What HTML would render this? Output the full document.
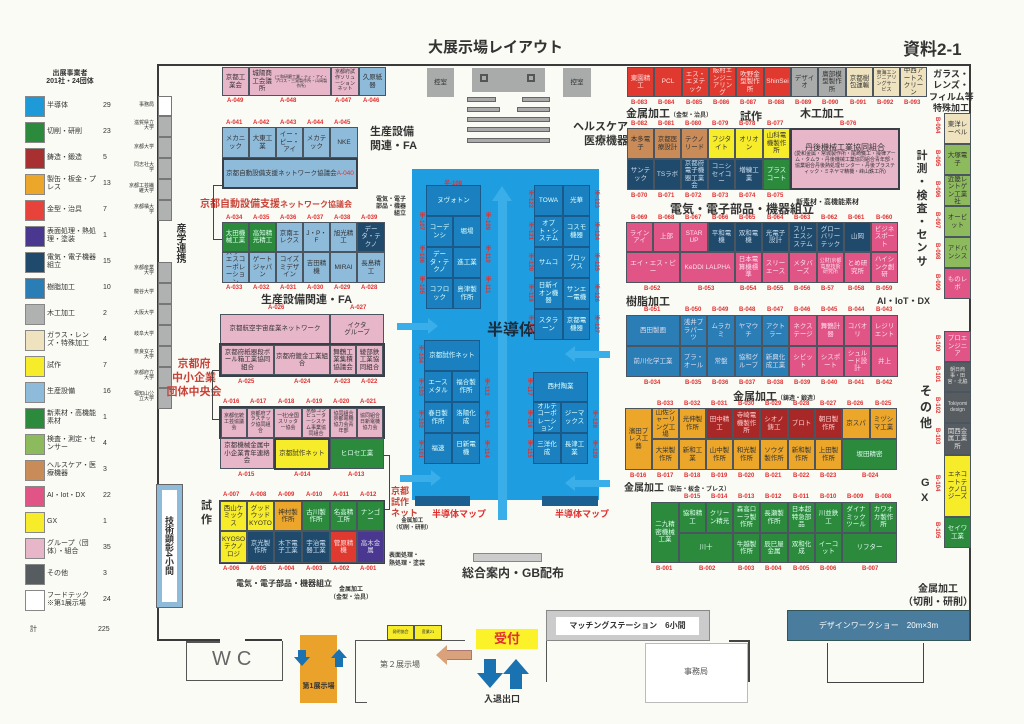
<!DOCTYPE html>
<html><head><meta charset="utf-8">
<style>
*{margin:0;padding:0;box-sizing:border-box}
body{width:1024px;height:724px;background:#fbfbf5;position:relative;overflow:hidden;font-family:"Liberation Sans","Noto Sans CJK JP",sans-serif;color:#333}
div{position:absolute}
.b{border:1px solid #4a5560;font-size:6.5px;display:flex;align-items:center;justify-content:center;text-align:center;line-height:1.15;overflow:hidden;color:#333;padding:1px}
.w{color:#e8eef5}
.t{border:2px solid #3a4048}
.pk{background:#e8b6c9}.lb{background:#8fbbdb}.gr{background:#2b8a3c;color:#dfe}.nv{background:#1f4a6c;color:#cde}
.bl{background:#2a7db5;color:#dde}.rd{background:#e03a30;color:#fdd}.dr{background:#a82828;color:#fcc}
.or{background:#eca72b}.ye{background:#f6ec2a}.ai{background:#e05586;color:#fde}.gy{background:#a9abab}
.be{background:#eee2bf}.lg{background:#8dba5c}.br{background:#c98b57}.pu{background:#4a3790;color:#dde}
.dg{background:#565c60;color:#ddd}.sb{background:#1b80bf;color:#dff;border-color:#1a5a8a}
.l{font-size:6px;color:#e03030;white-space:nowrap;font-weight:bold}
.h{font-weight:bold;white-space:nowrap}
.v{writing-mode:vertical-rl;font-size:6px;color:#e03030;font-weight:bold}
.sw{left:25px;width:20px;height:21px;border:1px solid #888}
.lt{left:47px;font-size:7px;line-height:1.1;width:55px}
.ct{left:103px;font-size:7px}
.un{left:118px;width:36px;font-size:5px;text-align:right;line-height:1.05}
.g{left:158px;width:14px;height:21px;background:#b0b2b2;border:1px solid #777}
</style></head><body>

<!-- titles -->
<div class="h" style="left:428px;top:36px;font-size:15px">大展示場レイアウト</div>
<div class="h" style="left:903px;top:35px;font-size:17px">資料2-1</div>

<!-- legend -->
<div class="h" style="left:40px;top:70px;font-size:7px;text-align:center;width:60px;line-height:1.2">出展事業者<br>201社・24団体</div>
<div class="sw" style="top:96px;background:#1e9ad8"></div><div class="lt" style="top:102px">半導体</div><div class="ct" style="top:102px">29</div>
<div class="sw" style="top:122px;background:#2b8a3c"></div><div class="lt" style="top:128px">切削・研削</div><div class="ct" style="top:128px">23</div>
<div class="sw" style="top:148px;background:#a83030"></div><div class="lt" style="top:154px">鋳造・鍛造</div><div class="ct" style="top:154px">5</div>
<div class="sw" style="top:174px;background:#eca72b"></div><div class="lt" style="top:176px">製缶・板金・プレス</div><div class="ct" style="top:180px">13</div>
<div class="sw" style="top:200px;background:#e8433a"></div><div class="lt" style="top:206px">金型・治具</div><div class="ct" style="top:206px">7</div>
<div class="sw" style="top:226px;background:#4a3790"></div><div class="lt" style="top:228px">表面処理・熱処理・塗装</div><div class="ct" style="top:232px">1</div>
<div class="sw" style="top:252px;background:#1f4a6c"></div><div class="lt" style="top:254px">電気・電子機器組立</div><div class="ct" style="top:258px">15</div>
<div class="sw" style="top:278px;background:#2a7db5"></div><div class="lt" style="top:284px">樹脂加工</div><div class="ct" style="top:284px">10</div>
<div class="sw" style="top:304px;background:#b0b2b2"></div><div class="lt" style="top:310px">木工加工</div><div class="ct" style="top:310px">2</div>
<div class="sw" style="top:330px;background:#eee2bf"></div><div class="lt" style="top:332px">ガラス・レンズ・特殊加工</div><div class="ct" style="top:336px">4</div>
<div class="sw" style="top:356px;background:#f6ec2a"></div><div class="lt" style="top:362px">試作</div><div class="ct" style="top:362px">7</div>
<div class="sw" style="top:382px;background:#8fbbdb"></div><div class="lt" style="top:388px">生産設備</div><div class="ct" style="top:388px">16</div>
<div class="sw" style="top:408px;background:#2b8a3c"></div><div class="lt" style="top:410px">新素材・高機能素材</div><div class="ct" style="top:414px">1</div>
<div class="sw" style="top:434px;background:#8dba5c"></div><div class="lt" style="top:436px">検査・測定・センサー</div><div class="ct" style="top:440px">4</div>
<div class="sw" style="top:460px;background:#c98b57"></div><div class="lt" style="top:462px">ヘルスケア・医療機器</div><div class="ct" style="top:466px">3</div>
<div class="sw" style="top:486px;background:#e05586"></div><div class="lt" style="top:492px">AI・Iot・DX</div><div class="ct" style="top:492px">22</div>
<div class="sw" style="top:512px;background:#f6ec2a"></div><div class="lt" style="top:518px">GX</div><div class="ct" style="top:518px">1</div>
<div class="sw" style="top:538px;background:#e8b6c9"></div><div class="lt" style="top:540px">グループ（団体）・組合</div><div class="ct" style="top:544px">35</div>
<div class="sw" style="top:564px;background:#565c60"></div><div class="lt" style="top:570px">その他</div><div class="ct" style="top:570px">3</div>
<div class="sw" style="top:590px;background:#fff"></div><div class="lt" style="top:592px">フードテック<br>※第1展示場</div><div class="ct" style="top:596px">24</div>
<div class="lt" style="top:626px;left:30px">計</div><div class="ct" style="top:626px;left:98px">225</div>

<!-- hall outline -->
<div style="left:157px;top:64px;width:814px;height:577px;border:2px solid #3a3a3a;border-bottom:none"></div>
<div style="left:157px;top:639px;width:63px;height:2px;background:#3a3a3a"></div>
<div style="left:245px;top:639px;width:37px;height:2px;background:#3a3a3a"></div>

<!-- universities column -->
<div style="left:158px;top:96px;width:14px;height:20px;background:#fff;border:1px solid #777"></div>
<div class="g" style="top:116px"></div><div class="g" style="top:137px"></div><div class="g" style="top:158px"></div><div class="g" style="top:179px"></div><div class="g" style="top:200px"></div>
<div class="g" style="top:262px"></div><div class="g" style="top:283px"></div><div class="g" style="top:304px"></div><div class="g" style="top:325px"></div><div class="g" style="top:346px"></div><div class="g" style="top:367px"></div><div class="g" style="top:388px"></div>
<div class="un" style="top:103px">事務局</div>
<div class="un" style="top:121px">滋賀県立<br>大学</div>
<div class="un" style="top:145px">京都大学</div>
<div class="un" style="top:163px">同志社大<br>学</div>
<div class="un" style="top:184px">京都工芸繊<br>維大学</div>
<div class="un" style="top:205px">京都橘大<br>学</div>
<div class="h" style="left:172px;top:223px;font-size:10px;writing-mode:vertical-rl">産学連携</div>
<div class="un" style="top:266px">京都産業<br>大学</div>
<div class="un" style="top:290px">龍谷大学</div>
<div class="un" style="top:311px">大阪大学</div>
<div class="un" style="top:332px">岐阜大学</div>
<div class="un" style="top:350px">奈良女子<br>大学</div>
<div class="un" style="top:371px">京都府立<br>大学</div>
<div class="un" style="top:392px">福知山公<br>立大学</div>
<div style="left:156px;top:484px;width:27px;height:124px;background:#8fbbdb;border:1px solid #666"></div>
<div class="h" style="left:162px;top:490px;width:15px;height:112px;background:#fff;font-size:9px;writing-mode:vertical-rl;display:flex;align-items:center;justify-content:center">技術顕彰4小間</div>

<!-- A top rows -->
<div class="b pk" style="left:222px;top:67px;width:27px;height:29px">京都工業会</div>
<div class="b pk" style="left:249px;top:67px;width:82px;height:29px">城陽商工会議所<br><span style="font-size:4px">(三和研磨工業・ティ・アイ・プロス・三晃製作所・山岡製作所)</span></div>
<div class="b pk" style="left:331px;top:67px;width:28px;height:29px;font-size:5px">京都府試作ソリューションネット</div>
<div class="b lb" style="left:359px;top:67px;width:27px;height:29px">久原紙器</div>
<div class="l" style="left:227px;top:98px">A-049</div><div class="l" style="left:280px;top:98px">A-048</div><div class="l" style="left:335px;top:98px">A-047</div><div class="l" style="left:363px;top:98px">A-046</div>
<div class="l" style="left:226px;top:120px">A-041</div><div class="l" style="left:253px;top:120px">A-042</div><div class="l" style="left:280px;top:120px">A-043</div><div class="l" style="left:307px;top:120px">A-044</div><div class="l" style="left:334px;top:120px">A-045</div>
<div class="b lb" style="left:222px;top:127px;width:27px;height:31px">メカニック</div>
<div class="b lb" style="left:249px;top:127px;width:27px;height:31px">大東工業</div>
<div class="b lb" style="left:276px;top:127px;width:27px;height:31px">イー・ピー・アイ</div>
<div class="b lb" style="left:303px;top:127px;width:27px;height:31px">メカテック</div>
<div class="b lb" style="left:330px;top:127px;width:28px;height:31px">NKE</div>
<div class="b lb t" style="left:222px;top:158px;width:136px;height:31px">京都自動設備支援ネットワーク協議会<br><span style="color:#e03030">A-040</span></div>
<div class="h" style="left:200px;top:195px;font-size:10px;color:#c8443a">京都自動設備支援<span style="font-size:8px">ネットワーク協議会</span></div>
<div style="left:213px;top:185px;width:9px;height:55px;border:1px solid #444;border-right:none"></div>
<div class="l" style="left:226px;top:215px">A-034</div><div class="l" style="left:253px;top:215px">A-035</div><div class="l" style="left:280px;top:215px">A-036</div><div class="l" style="left:307px;top:215px">A-037</div><div class="l" style="left:334px;top:215px">A-038</div><div class="l" style="left:361px;top:215px">A-039</div>
<div class="b gr" style="left:222px;top:222px;width:27px;height:30px">太田機械工業</div>
<div class="b gr" style="left:249px;top:222px;width:27px;height:30px">高知精光精工</div>
<div class="b lb" style="left:276px;top:222px;width:27px;height:30px">京南エレクス</div>
<div class="b lb" style="left:303px;top:222px;width:27px;height:30px">J・P・F</div>
<div class="b lb" style="left:330px;top:222px;width:27px;height:30px">旭光精工</div>
<div class="b nv" style="left:357px;top:222px;width:28px;height:30px">データ・テクノ</div>
<div class="b lb" style="left:222px;top:252px;width:27px;height:31px">スリーエスコーポレーション</div>
<div class="b lb" style="left:249px;top:252px;width:27px;height:31px">ゲートジャパン</div>
<div class="b lb" style="left:276px;top:252px;width:27px;height:31px">コイズミデザイン</div>
<div class="b lb" style="left:303px;top:252px;width:27px;height:31px">吉田精機</div>
<div class="b lb" style="left:330px;top:252px;width:27px;height:31px">MIRAI</div>
<div class="b lb" style="left:357px;top:252px;width:28px;height:31px">長島精工</div>
<div class="l" style="left:226px;top:285px">A-033</div><div class="l" style="left:253px;top:285px">A-032</div><div class="l" style="left:280px;top:285px">A-031</div><div class="l" style="left:307px;top:285px">A-030</div><div class="l" style="left:334px;top:285px">A-029</div><div class="l" style="left:361px;top:285px">A-028</div>
<div class="h" style="left:261px;top:291px;font-size:11px">生産設備関連・FA</div>
<div class="l" style="left:268px;top:305px">A-026</div><div class="l" style="left:350px;top:305px">A-027</div>
<div class="h" style="left:370px;top:125px;font-size:11px;line-height:1.3">生産設備<br>関連・FA</div>
<div class="h" style="left:376px;top:197px;font-size:6px;line-height:1.2;text-align:right">電気・電子<br>部品・機器<br>組立</div>

<!-- A group -->
<div class="b pk" style="left:220px;top:314px;width:110px;height:30px">京都航空宇宙産業ネットワーク</div>
<div class="b pk" style="left:330px;top:314px;width:54px;height:30px">イクタ<br>グループ</div>
<div style="left:219px;top:343px;width:166px;height:34px;border:2px solid #3a4048"></div>
<div class="b pk" style="left:221px;top:345px;width:53px;height:30px">京都府紙器段ボール箱工業協同組合</div>
<div class="b pk" style="left:274px;top:345px;width:56px;height:30px">京都府鍍金工業組合</div>
<div class="b pk" style="left:330px;top:345px;width:26px;height:30px">舞鶴工業集積協議会</div>
<div class="b pk" style="left:356px;top:345px;width:27px;height:30px">綾部鉄工業協同組合</div>
<div class="l" style="left:238px;top:379px">A-025</div><div class="l" style="left:294px;top:379px">A-024</div><div class="l" style="left:334px;top:379px">A-023</div><div class="l" style="left:361px;top:379px">A-022</div>
<div class="h" style="left:165px;top:358px;width:58px;font-size:11px;color:#c8443a;text-align:center;line-height:1.25">京都府<br>中小企業<br>団体中央会</div>
<div style="left:212px;top:370px;width:8px;height:50px;border:1px solid #444;border-right:none"></div>
<div class="l" style="left:223px;top:399px">A-016</div><div class="l" style="left:250px;top:399px">A-017</div><div class="l" style="left:278px;top:399px">A-018</div><div class="l" style="left:306px;top:399px">A-019</div><div class="l" style="left:333px;top:399px">A-020</div><div class="l" style="left:360px;top:399px">A-021</div>
<div style="left:219px;top:406px;width:166px;height:33px;border:2px solid #3a4048"></div>
<div class="b pk" style="left:221px;top:408px;width:26px;height:30px;font-size:5px">京都伝統工芸協議会</div>
<div class="b pk" style="left:247px;top:408px;width:27px;height:30px;font-size:5px">京都府プラスチック協同組合</div>
<div class="b pk" style="left:274px;top:408px;width:28px;height:30px;font-size:5px">一社)全国スリッター協会</div>
<div class="b pk" style="left:302px;top:408px;width:28px;height:30px;font-size:5px">京都コンピューターシステム事業協同組合</div>
<div class="b pk" style="left:330px;top:408px;width:27px;height:30px;font-size:5px">協同組合京都電機協力会青年部</div>
<div class="b pk" style="left:357px;top:408px;width:26px;height:30px;font-size:5px">協同組合日新電機協力会</div>
<div class="b pk" style="left:220px;top:438px;width:54px;height:31px">京都機械金属中小企業青年連絡会</div>
<div class="b ye t" style="left:274px;top:438px;width:56px;height:32px">京都試作ネット</div>
<div class="b gr" style="left:330px;top:438px;width:54px;height:31px">ヒロセ工業</div>
<div class="l" style="left:238px;top:472px">A-015</div><div class="l" style="left:294px;top:472px">A-014</div><div class="l" style="left:348px;top:472px">A-013</div>
<div style="left:384px;top:455px;width:6px;height:55px;border:1px solid #444;border-left:none"></div>
<div class="h" style="left:201px;top:499px;font-size:11px;line-height:1.3">試<br>作</div>
<div class="l" style="left:223px;top:492px">A-007</div><div class="l" style="left:250px;top:492px">A-008</div><div class="l" style="left:278px;top:492px">A-009</div><div class="l" style="left:306px;top:492px">A-010</div><div class="l" style="left:333px;top:492px">A-011</div><div class="l" style="left:360px;top:492px">A-012</div>
<div style="left:219px;top:500px;width:166px;height:64px;border:2px solid #3a4048"></div>
<div class="b ye" style="left:220px;top:501px;width:27px;height:30px">西山ケミックス</div>
<div class="b ye" style="left:247px;top:501px;width:27px;height:30px">グッドウッドKYOTO</div>
<div class="b or" style="left:274px;top:501px;width:28px;height:30px">神村製作所</div>
<div class="b gr" style="left:302px;top:501px;width:28px;height:30px">古川製作所</div>
<div class="b gr" style="left:330px;top:501px;width:27px;height:30px">名高精工所</div>
<div class="b gr" style="left:357px;top:501px;width:27px;height:30px">ナンゴー</div>
<div class="b ye" style="left:220px;top:531px;width:27px;height:32px">KYOSOテクノロジ</div>
<div class="b nv" style="left:247px;top:531px;width:27px;height:32px">京光製作所</div>
<div class="b nv" style="left:274px;top:531px;width:28px;height:32px">木下電子工業</div>
<div class="b nv" style="left:302px;top:531px;width:28px;height:32px">宇治電器工業</div>
<div class="b rd" style="left:330px;top:531px;width:27px;height:32px">菅原精機</div>
<div class="b pu" style="left:357px;top:531px;width:27px;height:32px">高木金属</div>
<div class="l" style="left:223px;top:566px">A-006</div><div class="l" style="left:250px;top:566px">A-005</div><div class="l" style="left:278px;top:566px">A-004</div><div class="l" style="left:306px;top:566px">A-003</div><div class="l" style="left:333px;top:566px">A-002</div><div class="l" style="left:360px;top:566px">A-001</div>
<div class="h" style="left:391px;top:486px;font-size:9px;color:#c8443a;line-height:1.2">京都<br>試作<br>ネット</div>
<div class="h" style="left:393px;top:518px;font-size:5.5px;line-height:1.3;text-align:center">金属加工<br>（切削・研削）</div>
<div class="h" style="left:389px;top:553px;font-size:6px;line-height:1.3">表面処理・<br>熱処理・塗装</div>
<div class="h" style="left:236px;top:578px;font-size:8px">電気・電子部品・機器組立</div>
<div class="h" style="left:330px;top:587px;font-size:6px;line-height:1.3;text-align:center">金属加工<br>（金型・治具）</div>

<!-- top centre -->
<div class="b gy" style="left:427px;top:68px;width:27px;height:29px;border:none">控室</div>
<div style="left:472px;top:68px;width:73px;height:24px;background:#a9abab"></div>
<div style="left:480px;top:74px;width:8px;height:8px;border:2px solid #555"></div>
<div style="left:527px;top:74px;width:8px;height:8px;border:2px solid #555"></div>
<div class="b gy" style="left:563px;top:68px;width:28px;height:29px;border:none">控室</div>
<div style="left:467px;top:97px;width:29px;height:5px;background:#aaa;border:1px solid #666"></div>
<div style="left:522px;top:97px;width:28px;height:5px;background:#aaa;border:1px solid #666"></div>
<div style="left:467px;top:107px;width:33px;height:5px;background:#aaa;border:1px solid #666"></div>
<div style="left:517px;top:107px;width:33px;height:5px;background:#aaa;border:1px solid #666"></div>
<div style="left:467px;top:117px;width:83px;height:5px;background:#aaa;border:1px solid #666"></div>
<div style="left:467px;top:127px;width:83px;height:5px;background:#aaa;border:1px solid #666"></div>
<div style="left:467px;top:138px;width:83px;height:5px;background:#aaa;border:1px solid #666"></div>
<div class="h" style="left:573px;top:120px;font-size:11px;line-height:1.3;text-align:right">ヘルスケア<br>医療機器</div>

<!-- semiconductor -->
<div style="left:412px;top:169px;width:187px;height:331px;background:#1e9ee0"></div>
<div style="left:498px;top:200px;width:9px;height:320px;background:#3aaee8"></div>
<div style="left:492px;top:186px;width:0;height:0;border-left:10px solid transparent;border-right:10px solid transparent;border-bottom:15px solid #3aaee8"></div>
<div style="left:397px;top:323px;width:32px;height:7px;background:#3aaee8"></div><div style="left:428px;top:318px;border-top:8px solid transparent;border-bottom:8px solid transparent;border-left:10px solid #3aaee8"></div>
<div style="left:400px;top:475px;width:32px;height:7px;background:#3aaee8"></div><div style="left:431px;top:470px;border-top:8px solid transparent;border-bottom:8px solid transparent;border-left:10px solid #3aaee8"></div>
<div style="left:575px;top:351px;width:35px;height:7px;background:#3aaee8"></div><div style="left:565px;top:346px;border-top:8px solid transparent;border-bottom:8px solid transparent;border-right:10px solid #3aaee8"></div>
<div style="left:575px;top:480px;width:35px;height:7px;background:#3aaee8"></div><div style="left:565px;top:475px;border-top:8px solid transparent;border-bottom:8px solid transparent;border-right:10px solid #3aaee8"></div>
<div class="l" style="left:444px;top:178px">半-108</div>
<div class="b sb" style="left:426px;top:185px;width:55px;height:31px">ヌヴォトン</div>
<div class="b sb" style="left:426px;top:216px;width:27px;height:31px">コーデンシ</div><div class="b sb" style="left:453px;top:216px;width:28px;height:31px">堀場</div>
<div class="b sb" style="left:426px;top:247px;width:27px;height:31px">データ・テクノ</div><div class="b sb" style="left:453px;top:247px;width:28px;height:31px">進工業</div>
<div class="b sb" style="left:426px;top:278px;width:27px;height:31px">コフロック</div><div class="b sb" style="left:453px;top:278px;width:28px;height:31px">島津製作所</div>
<div class="b sb" style="left:534px;top:185px;width:29px;height:31px">TOWA</div><div class="b sb" style="left:563px;top:185px;width:27px;height:31px">光華</div>
<div class="b sb" style="left:534px;top:216px;width:29px;height:31px">オプト・システム</div><div class="b sb" style="left:563px;top:216px;width:27px;height:31px">コスモ機器</div>
<div class="b sb" style="left:534px;top:247px;width:29px;height:31px">サムコ</div><div class="b sb" style="left:563px;top:247px;width:27px;height:31px">ブロックス</div>
<div class="b sb" style="left:534px;top:278px;width:29px;height:31px">日新イオン機器</div><div class="b sb" style="left:563px;top:278px;width:27px;height:31px">サンエー電機</div>
<div class="b sb" style="left:534px;top:309px;width:29px;height:31px">スタラーン</div><div class="b sb" style="left:563px;top:309px;width:27px;height:31px">京都電機器</div>
<div class="h" style="left:487px;top:316px;font-size:16px;color:#1b2b3b">半導体</div>
<div class="b sb" style="left:424px;top:340px;width:56px;height:31px">京都試作ネット</div>
<div class="b sb" style="left:424px;top:371px;width:28px;height:31px">エースメタル</div><div class="b sb" style="left:452px;top:371px;width:28px;height:31px">福合製作所</div>
<div class="b sb" style="left:424px;top:402px;width:28px;height:31px">春日製作所</div><div class="b sb" style="left:452px;top:402px;width:28px;height:31px">洛陽化成</div>
<div class="b sb" style="left:424px;top:433px;width:28px;height:31px">福速</div><div class="b sb" style="left:452px;top:433px;width:28px;height:31px">日新電機</div>
<div class="b sb" style="left:533px;top:372px;width:55px;height:30px">西村陶業</div>
<div class="b sb" style="left:533px;top:402px;width:28px;height:31px">オルテコーポレーション</div><div class="b sb" style="left:561px;top:402px;width:27px;height:31px">ジーマックス</div>
<div class="b sb" style="left:533px;top:433px;width:28px;height:31px">三洋化成</div><div class="b sb" style="left:561px;top:433px;width:27px;height:31px">長津工業</div>
<div class="v" style="left:417px;top:212px">半-107</div><div class="v" style="left:417px;top:245px">半-106</div><div class="v" style="left:417px;top:276px">半-105</div>
<div class="v" style="left:483px;top:212px">半-109</div><div class="v" style="left:483px;top:245px">半-110</div><div class="v" style="left:483px;top:276px">半-111</div>
<div class="v" style="left:526px;top:190px">半-122</div><div class="v" style="left:526px;top:222px">半-121</div><div class="v" style="left:526px;top:253px">半-120</div><div class="v" style="left:526px;top:284px">半-119</div><div class="v" style="left:526px;top:315px">半-118</div>
<div class="v" style="left:592px;top:190px">半-123</div><div class="v" style="left:592px;top:222px">半-124</div><div class="v" style="left:592px;top:253px">半-125</div><div class="v" style="left:592px;top:284px">半-126</div><div class="v" style="left:592px;top:315px">半-127</div>
<div class="v" style="left:416px;top:345px">半-104</div><div class="v" style="left:416px;top:378px">半-103</div><div class="v" style="left:416px;top:410px">半-102</div><div class="v" style="left:416px;top:440px">半-101</div>
<div class="v" style="left:482px;top:378px">半-112</div><div class="v" style="left:482px;top:410px">半-113</div><div class="v" style="left:482px;top:440px">半-114</div>
<div class="v" style="left:525px;top:378px">半-117</div><div class="v" style="left:525px;top:410px">半-116</div><div class="v" style="left:525px;top:440px">半-115</div>
<div class="v" style="left:590px;top:410px">半-128</div><div class="v" style="left:590px;top:440px">半-129</div>
<div style="left:415px;top:496px;width:55px;height:10px;background:#1b5e90"></div>
<div style="left:542px;top:496px;width:56px;height:10px;background:#1b5e90"></div>
<div class="h" style="left:432px;top:507px;font-size:9px;color:#e03030">半導体マップ</div>
<div class="h" style="left:555px;top:507px;font-size:9px;color:#e03030">半導体マップ</div>
<div style="left:473px;top:553px;width:69px;height:9px;background:#ccc;border:1px solid #888"></div>
<div class="h" style="left:462px;top:564px;font-size:12px">総合案内・GB配布</div>

<!-- B top row -->
<div class="b rd" style="left:627px;top:67px;width:27px;height:30px">東園精工</div>
<div class="b rd" style="left:654px;top:67px;width:28px;height:30px">PCL</div>
<div class="b rd" style="left:682px;top:67px;width:27px;height:30px">エス・エヌテック</div>
<div class="b rd" style="left:709px;top:67px;width:27px;height:30px">阪村エンジニアリング</div>
<div class="b rd" style="left:736px;top:67px;width:28px;height:30px">吹野金型製作所</div>
<div class="b rd" style="left:764px;top:67px;width:27px;height:30px">ShinSei</div>
<div class="b gy" style="left:791px;top:67px;width:27px;height:30px">デザイオ</div>
<div class="b gy" style="left:818px;top:67px;width:28px;height:30px">廣部模型製作所</div>
<div class="b be" style="left:846px;top:67px;width:27px;height:30px">京都樹包運輸</div>
<div class="b be" style="left:873px;top:67px;width:27px;height:30px;font-size:5px">東海エンジニアリングサービス</div>
<div class="b be" style="left:900px;top:67px;width:27px;height:30px">中西アートスクリーン</div>
<div class="l" style="left:631px;top:100px">B-083</div><div class="l" style="left:658px;top:100px">B-084</div><div class="l" style="left:686px;top:100px">B-085</div><div class="l" style="left:713px;top:100px">B-086</div><div class="l" style="left:740px;top:100px">B-087</div><div class="l" style="left:768px;top:100px">B-088</div><div class="l" style="left:795px;top:100px">B-089</div><div class="l" style="left:822px;top:100px">B-090</div><div class="l" style="left:850px;top:100px">B-091</div><div class="l" style="left:877px;top:100px">B-092</div><div class="l" style="left:904px;top:100px">B-093</div>
<div class="h" style="left:929px;top:69px;width:44px;font-size:9px;line-height:1.25;text-align:center">ガラス・<br>レンズ・<br>フィルム等<br>特殊加工</div>
<div class="h" style="left:626px;top:105px;font-size:11px">金属加工<span style="font-size:6px">（金型・治具）</span></div>
<div class="h" style="left:740px;top:108px;font-size:11px">試作</div>
<div class="h" style="left:800px;top:105px;font-size:11px">木工加工</div>
<div class="l" style="left:631px;top:121px">B-082</div><div class="l" style="left:658px;top:121px">B-081</div><div class="l" style="left:685px;top:121px">B-080</div><div class="l" style="left:712px;top:121px">B-079</div><div class="l" style="left:739px;top:121px">B-078</div><div class="l" style="left:767px;top:121px">B-077</div><div class="l" style="left:840px;top:121px">B-076</div>
<div class="b br" style="left:627px;top:128px;width:27px;height:31px">本多電子</div>
<div class="b br" style="left:654px;top:128px;width:27px;height:31px">京都医療設計</div>
<div class="b br" style="left:681px;top:128px;width:27px;height:31px">テクノリード</div>
<div class="b ye" style="left:708px;top:128px;width:27px;height:31px">フジタイト</div>
<div class="b ye" style="left:735px;top:128px;width:28px;height:31px">オリオン</div>
<div class="b ye" style="left:763px;top:128px;width:27px;height:31px">山科電機製作所</div>
<div class="b pk t" style="left:790px;top:128px;width:110px;height:62px;font-size:5px"><span><span style="font-size:8px">丹後機械工業協同組合</span><br>(愛和金属・常城製作所・尾崎鐵工・操律アーム・タムラ・丹後機械工業協同組合青年部・協業組合丹後熱処理センター・丹後プラスティック・ミネヤマ精機・峰山鉄工所)</span></div>
<div class="b nv" style="left:627px;top:159px;width:27px;height:31px">サンテック</div>
<div class="b nv" style="left:654px;top:159px;width:27px;height:31px">TSラボ</div>
<div class="b nv" style="left:681px;top:159px;width:27px;height:31px">京都府電子機器工業会</div>
<div class="b nv" style="left:708px;top:159px;width:27px;height:31px">コニシセイコー</div>
<div class="b nv" style="left:735px;top:159px;width:28px;height:31px">増練工業</div>
<div class="b gr" style="left:763px;top:159px;width:27px;height:31px">プラスコート</div>
<div class="l" style="left:631px;top:193px">B-070</div><div class="l" style="left:658px;top:193px">B-071</div><div class="l" style="left:685px;top:193px">B-072</div><div class="l" style="left:712px;top:193px">B-073</div><div class="l" style="left:739px;top:193px">B-074</div><div class="l" style="left:767px;top:193px">B-075</div>
<div class="h" style="left:796px;top:197px;font-size:7px">新素材・高機能素材</div>
<div class="h" style="left:670px;top:200px;font-size:12px">電気・電子部品・機器組立</div>
<div class="l" style="left:631px;top:215px">B-069</div><div class="l" style="left:658px;top:215px">B-068</div><div class="l" style="left:685px;top:215px">B-067</div><div class="l" style="left:712px;top:215px">B-066</div><div class="l" style="left:739px;top:215px">B-065</div><div class="l" style="left:767px;top:215px">B-064</div><div class="l" style="left:794px;top:215px">B-063</div><div class="l" style="left:821px;top:215px">B-062</div><div class="l" style="left:848px;top:215px">B-061</div><div class="l" style="left:876px;top:215px">B-060</div>
<div class="b ai" style="left:626px;top:222px;width:27px;height:30px">ラインアイ</div>
<div class="b ai" style="left:653px;top:222px;width:27px;height:30px">上部</div>
<div class="b ai" style="left:680px;top:222px;width:28px;height:30px">STAR UP</div>
<div class="b nv" style="left:708px;top:222px;width:27px;height:30px">平和電機</div>
<div class="b nv" style="left:735px;top:222px;width:27px;height:30px">双和電機</div>
<div class="b nv" style="left:762px;top:222px;width:27px;height:30px">光電子設計</div>
<div class="b nv" style="left:789px;top:222px;width:28px;height:30px">スリーエスシステム</div>
<div class="b nv" style="left:817px;top:222px;width:27px;height:30px">グローバリーテック</div>
<div class="b nv" style="left:844px;top:222px;width:27px;height:30px">山岡</div>
<div class="b ai" style="left:871px;top:222px;width:27px;height:30px">ビジネスポート</div>
<div class="b ai" style="left:626px;top:252px;width:54px;height:31px">エイ・エス・ピー</div>
<div class="b ai" style="left:680px;top:252px;width:55px;height:31px">KeDDI LALPHA</div>
<div class="b ai" style="left:735px;top:252px;width:27px;height:31px">日本電算機標準</div>
<div class="b ai" style="left:762px;top:252px;width:27px;height:31px">スリーエース</div>
<div class="b ai" style="left:789px;top:252px;width:28px;height:31px">メタバーズ</div>
<div class="b ai" style="left:817px;top:252px;width:27px;height:31px;font-size:5px">公財)京都高度技術研究所</div>
<div class="b ai" style="left:844px;top:252px;width:27px;height:31px">とめ研究所</div>
<div class="b ai" style="left:871px;top:252px;width:27px;height:31px">ハイシンク創研</div>
<div class="l" style="left:644px;top:286px">B-052</div><div class="l" style="left:698px;top:286px">B-053</div><div class="l" style="left:740px;top:286px">B-054</div><div class="l" style="left:767px;top:286px">B-055</div><div class="l" style="left:794px;top:286px">B-056</div><div class="l" style="left:821px;top:286px">B-57</div><div class="l" style="left:848px;top:286px">B-058</div><div class="l" style="left:876px;top:286px">B-059</div>
<div class="h" style="left:626px;top:293px;font-size:11px">樹脂加工</div>
<div class="h" style="left:877px;top:294px;font-size:9px">AI・IoT・DX</div>
<div class="l" style="left:644px;top:307px">B-051</div><div class="l" style="left:685px;top:307px">B-050</div><div class="l" style="left:712px;top:307px">B-049</div><div class="l" style="left:739px;top:307px">B-048</div><div class="l" style="left:767px;top:307px">B-047</div><div class="l" style="left:794px;top:307px">B-046</div><div class="l" style="left:821px;top:307px">B-045</div><div class="l" style="left:848px;top:307px">B-044</div><div class="l" style="left:876px;top:307px">B-043</div>
<div class="b bl" style="left:626px;top:315px;width:54px;height:31px">西田製画</div>
<div class="b bl" style="left:680px;top:315px;width:27px;height:31px">浅井プラパーツ</div>
<div class="b bl" style="left:707px;top:315px;width:28px;height:31px">ムラカミ</div>
<div class="b bl" style="left:735px;top:315px;width:27px;height:31px">ヤマウチ</div>
<div class="b bl" style="left:762px;top:315px;width:27px;height:31px">アクトラー</div>
<div class="b ai" style="left:789px;top:315px;width:28px;height:31px">ネクステージ</div>
<div class="b ai" style="left:817px;top:315px;width:27px;height:31px">舞鶴計器</div>
<div class="b ai" style="left:844px;top:315px;width:27px;height:31px">コバオリ</div>
<div class="b ai" style="left:871px;top:315px;width:27px;height:31px">レジリエント</div>
<div class="b bl" style="left:626px;top:346px;width:54px;height:31px">前川化学工業</div>
<div class="b bl" style="left:680px;top:346px;width:27px;height:31px">プラ・オール</div>
<div class="b bl" style="left:707px;top:346px;width:28px;height:31px">常盤</div>
<div class="b bl" style="left:735px;top:346px;width:27px;height:31px">協和グループ</div>
<div class="b bl" style="left:762px;top:346px;width:27px;height:31px">新興化成工業</div>
<div class="b ai" style="left:789px;top:346px;width:28px;height:31px">シビット</div>
<div class="b ai" style="left:817px;top:346px;width:27px;height:31px">シスポート</div>
<div class="b ai" style="left:844px;top:346px;width:27px;height:31px">シュルード設計</div>
<div class="b ai" style="left:871px;top:346px;width:27px;height:31px">井上</div>
<div class="l" style="left:644px;top:380px">B-034</div><div class="l" style="left:685px;top:380px">B-035</div><div class="l" style="left:712px;top:380px">B-036</div><div class="l" style="left:739px;top:380px">B-037</div><div class="l" style="left:767px;top:380px">B-038</div><div class="l" style="left:794px;top:380px">B-039</div><div class="l" style="left:821px;top:380px">B-040</div><div class="l" style="left:848px;top:380px">B-041</div><div class="l" style="left:876px;top:380px">B-042</div>
<div class="h" style="left:733px;top:388px;font-size:11px">金属加工<span style="font-size:6px">（鋳造・鍛造）</span></div>
<div class="l" style="left:657px;top:401px">B-033</div><div class="l" style="left:684px;top:401px">B-032</div><div class="l" style="left:711px;top:401px">B-031</div><div class="l" style="left:738px;top:401px">B-030</div><div class="l" style="left:765px;top:401px">B-029</div><div class="l" style="left:793px;top:401px">B-028</div><div class="l" style="left:820px;top:401px">B-027</div><div class="l" style="left:847px;top:401px">B-026</div><div class="l" style="left:875px;top:401px">B-025</div>
<div class="b or" style="left:625px;top:408px;width:27px;height:62px">濱田プレス工藝</div>
<div class="b or" style="left:652px;top:408px;width:27px;height:31px">山佐シャーリング工場</div>
<div class="b or" style="left:679px;top:408px;width:27px;height:31px">光伸製作所</div>
<div class="b dr" style="left:706px;top:408px;width:27px;height:31px">田中精工</div>
<div class="b dr" style="left:733px;top:408px;width:27px;height:31px">寺崎電機製作所</div>
<div class="b dr" style="left:760px;top:408px;width:28px;height:31px">シオノ鋳工</div>
<div class="b dr" style="left:788px;top:408px;width:27px;height:31px">ブロト</div>
<div class="b dr" style="left:815px;top:408px;width:27px;height:31px">朝日製作所</div>
<div class="b or" style="left:842px;top:408px;width:28px;height:31px">京スパ</div>
<div class="b or" style="left:870px;top:408px;width:27px;height:31px">ミヅシマ工業</div>
<div class="b or" style="left:652px;top:439px;width:27px;height:31px">大栄製作所</div>
<div class="b or" style="left:679px;top:439px;width:27px;height:31px">新和工業</div>
<div class="b or" style="left:706px;top:439px;width:27px;height:31px">山中製作所</div>
<div class="b or" style="left:733px;top:439px;width:27px;height:31px">和光製作所</div>
<div class="b or" style="left:760px;top:439px;width:28px;height:31px">ソウダ製作所</div>
<div class="b or" style="left:788px;top:439px;width:27px;height:31px">新和製作所</div>
<div class="b or" style="left:815px;top:439px;width:27px;height:31px">上田製作所</div>
<div class="b gr" style="left:842px;top:439px;width:55px;height:31px">坂田精密</div>
<div class="l" style="left:630px;top:473px">B-016</div><div class="l" style="left:657px;top:473px">B-017</div><div class="l" style="left:684px;top:473px">B-018</div><div class="l" style="left:711px;top:473px">B-019</div><div class="l" style="left:738px;top:473px">B-020</div><div class="l" style="left:765px;top:473px">B-021</div><div class="l" style="left:793px;top:473px">B-022</div><div class="l" style="left:820px;top:473px">B-023</div><div class="l" style="left:862px;top:473px">B-024</div>
<div class="h" style="left:624px;top:479px;font-size:10px">金属加工<span style="font-size:6px">（製缶・板金・プレス）</span></div>
<div class="l" style="left:684px;top:494px">B-015</div><div class="l" style="left:711px;top:494px">B-014</div><div class="l" style="left:738px;top:494px">B-013</div><div class="l" style="left:765px;top:494px">B-012</div><div class="l" style="left:793px;top:494px">B-011</div><div class="l" style="left:820px;top:494px">B-010</div><div class="l" style="left:847px;top:494px">B-009</div><div class="l" style="left:875px;top:494px">B-008</div>
<div class="b gr" style="left:651px;top:502px;width:28px;height:61px">二九精密機械工業</div>
<div class="b gr" style="left:679px;top:502px;width:27px;height:31px">協和精工</div>
<div class="b gr" style="left:706px;top:502px;width:27px;height:31px">クリーン精光</div>
<div class="b gr" style="left:733px;top:502px;width:27px;height:31px">森高ローラ製作所</div>
<div class="b gr" style="left:760px;top:502px;width:28px;height:31px">長瀬製作所</div>
<div class="b gr" style="left:788px;top:502px;width:27px;height:31px">日本超特急部品</div>
<div class="b gr" style="left:815px;top:502px;width:27px;height:31px">川並鉄工</div>
<div class="b gr" style="left:842px;top:502px;width:28px;height:31px">ダイナミックツール</div>
<div class="b gr" style="left:870px;top:502px;width:27px;height:31px">カワオカ製作所</div>
<div class="b gr" style="left:679px;top:533px;width:54px;height:30px">川十</div>
<div class="b gr" style="left:733px;top:533px;width:27px;height:30px">牛越製作所</div>
<div class="b gr" style="left:760px;top:533px;width:28px;height:30px">辰巳屋金属</div>
<div class="b gr" style="left:788px;top:533px;width:27px;height:30px">双和化成</div>
<div class="b gr" style="left:815px;top:533px;width:27px;height:30px">イーコット</div>
<div class="b gr" style="left:842px;top:533px;width:55px;height:30px">リフター</div>
<div class="l" style="left:656px;top:566px">B-001</div><div class="l" style="left:699px;top:566px">B-002</div><div class="l" style="left:738px;top:566px">B-003</div><div class="l" style="left:765px;top:566px">B-004</div><div class="l" style="left:793px;top:566px">B-005</div><div class="l" style="left:820px;top:566px">B-006</div><div class="l" style="left:862px;top:566px">B-007</div>
<div class="h" style="left:903px;top:583px;font-size:10px;text-align:center;line-height:1.3">金属加工<br>（切削・研削）</div>

<!-- right column -->
<div class="b be" style="left:944px;top:113px;width:27px;height:31px">東洋レーベル</div>
<div class="b lg" style="left:944px;top:144px;width:27px;height:31px">大塚電子</div>
<div class="b lg" style="left:944px;top:175px;width:27px;height:31px">近畿レントゲン工業社</div>
<div class="b lg" style="left:944px;top:206px;width:27px;height:31px">オービット</div>
<div class="b lg" style="left:944px;top:237px;width:27px;height:31px">アドバンシス</div>
<div class="b ai" style="left:944px;top:268px;width:27px;height:31px">ものレボ</div>
<div class="b ai" style="left:944px;top:331px;width:27px;height:31px">プロエンジニア</div>
<div class="b dg" style="left:944px;top:362px;width:27px;height:30px;font-size:5px">朝日商事・田宮・北脇</div>
<div class="b dg" style="left:944px;top:392px;width:27px;height:31px;font-size:5px">Tokiyomi design</div>
<div class="b dg" style="left:944px;top:423px;width:27px;height:32px">関西金属工業所</div>
<div class="b ye" style="left:944px;top:455px;width:27px;height:62px">エネコートテクノロジーズ</div>
<div class="b gr" style="left:944px;top:517px;width:27px;height:31px">セイワ工業</div>
<div class="v" style="left:934px;top:117px">B-094</div><div class="v" style="left:934px;top:150px">B-095</div><div class="v" style="left:934px;top:181px">B-096</div><div class="v" style="left:934px;top:212px">B-097</div><div class="v" style="left:934px;top:243px">B-098</div><div class="v" style="left:934px;top:274px">B-099</div>
<div class="v" style="left:934px;top:335px">B-100</div><div class="v" style="left:934px;top:366px">B-101</div><div class="v" style="left:934px;top:397px">B-102</div><div class="v" style="left:934px;top:428px">B-103</div><div class="v" style="left:934px;top:475px">B-104</div><div class="v" style="left:934px;top:522px">B-105</div>
<div class="h" style="left:915px;top:150px;font-size:11px;line-height:1.2;width:14px;text-align:center">計<br>測<br>・<br>検<br>査<br>・<br>セ<br>ン<br>サ</div>
<div class="h" style="left:920px;top:383px;font-size:12px;line-height:1.35">そ<br>の<br>他</div>
<div class="h" style="left:921px;top:476px;font-size:11px;line-height:1.4">G<br>X</div>

<!-- bottom -->
<div style="left:186px;top:641px;width:97px;height:40px;border:1px solid #555;border-top:none"></div>
<div style="left:186px;top:641px;width:34px;height:2px;background:#555"></div>
<div style="left:212px;top:648px;font-size:20px;color:#666;letter-spacing:6px">WC</div>
<div style="left:300px;top:635px;width:37px;height:68px;background:#eba22b"></div>
<div class="h" style="left:300px;top:681px;width:37px;font-size:7px;text-align:center">第1展示場</div>
<div style="left:298px;top:650px;width:8px;height:8px;background:#1b72b0"></div><div style="left:294px;top:657px;border-left:8px solid transparent;border-right:8px solid transparent;border-top:9px solid #1b72b0"></div>
<div style="left:335px;top:658px;width:8px;height:9px;background:#1b72b0"></div><div style="left:331px;top:649px;border-left:8px solid transparent;border-right:8px solid transparent;border-bottom:9px solid #1b72b0"></div>
<div style="left:355px;top:640px;width:110px;height:63px;border-left:1px solid #555;border-top:1px solid #555"></div>
<div style="left:355px;top:702px;width:12px;height:1px;background:#555"></div>
<div style="left:380px;top:659px;font-size:8px;color:#555">第２展示場</div>
<div class="b ye" style="left:387px;top:625px;width:27px;height:15px;font-size:4px">発明協会</div>
<div class="b ye" style="left:414px;top:625px;width:28px;height:15px;font-size:4px">産業21</div>
<div style="left:446px;top:650px;width:26px;height:10px;background:#d9a27a;border:1px solid #a77"></div><div style="left:436px;top:645px;border-top:10px solid transparent;border-bottom:10px solid transparent;border-right:11px solid #d9a27a"></div>
<div class="h" style="left:476px;top:629px;width:62px;height:20px;background:#fbf22a;color:#e03030;font-size:13px;text-align:center;line-height:20px">受付</div>
<div style="left:484px;top:659px;width:12px;height:15px;background:#1b72b0"></div><div style="left:477px;top:673px;border-left:13px solid transparent;border-right:13px solid transparent;border-bottom:none;border-top:15px solid #1b72b0"></div>
<div style="left:510px;top:674px;width:12px;height:15px;background:#1b72b0"></div><div style="left:503px;top:659px;border-left:13px solid transparent;border-right:13px solid transparent;border-bottom:15px solid #1b72b0"></div>
<div class="h" style="left:484px;top:692px;font-size:9px">入退出口</div>
<div style="left:546px;top:610px;width:164px;height:31px;background:#cbcbcb;border:1px solid #888"></div>
<div style="left:556px;top:617px;width:143px;height:18px;background:#fff;font-size:8px;font-weight:bold;text-align:center;line-height:18px">マッチングステーション　6小間</div>
<div style="left:546px;top:641px;width:1px;height:41px;background:#555"></div>
<div style="left:645px;top:643px;width:103px;height:60px;border:1px solid #bbb;background:#fff"></div>
<div style="left:684px;top:666px;font-size:8px;color:#555">事務局</div>
<div style="left:729px;top:640px;width:21px;height:42px;border-top:2px solid #444;border-right:2px solid #444"></div>
<div style="left:787px;top:610px;width:183px;height:31px;background:#4a7c9d;border:1px solid #355;color:#fff;font-size:8px;text-align:center;line-height:29px">デザインワークショー　20m×3m</div>
<div style="left:827px;top:643px;width:97px;height:40px;border:1px solid #444;border-top:none"></div>
</body></html>
